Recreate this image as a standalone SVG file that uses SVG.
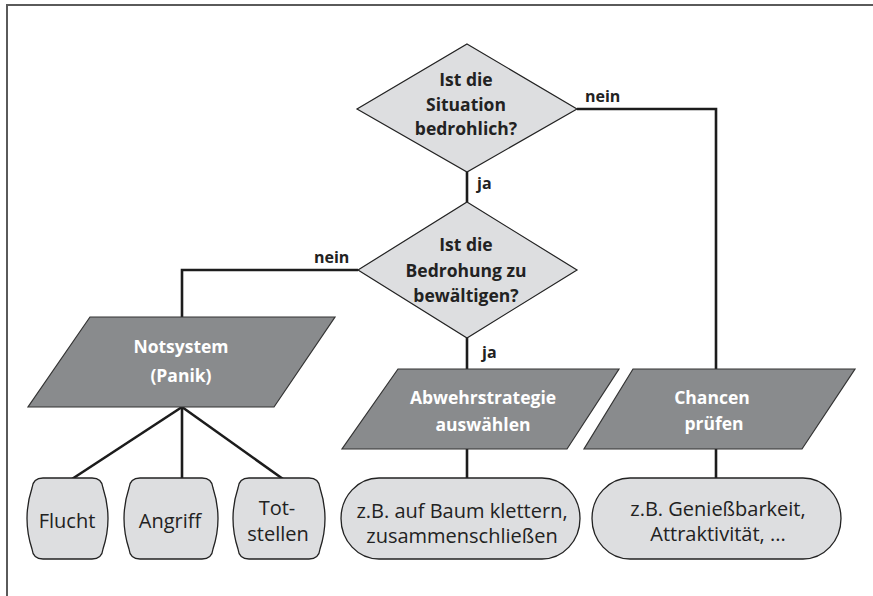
<svg xmlns="http://www.w3.org/2000/svg" width="873" height="596" viewBox="0 0 873 596">
<style>
.dia{fill:#dddee0;stroke:#222;stroke-width:1.2}
.par{fill:#898b8d;stroke:#333;stroke-width:1.2}
.box{fill:#dddee0;stroke:#222;stroke-width:1.3}
.con{fill:none;stroke:#1c1c1c;stroke-width:2.6;stroke-linejoin:miter}
.frame{fill:none;stroke:#5a5a5a;stroke-width:2}
text{font-family:"Open Sans","Noto Sans",sans-serif;text-anchor:middle}
.b{font-weight:bold;font-size:17.5px;fill:#222}
.w{font-weight:bold;font-size:17.5px;fill:#fff}
.r{font-size:20px;fill:#222}
.lbl{font-weight:bold;font-size:16px;fill:#222;text-anchor:start}
</style>
<polyline class="frame" points="873,5 7,5 7,596"/>
<g id="connectors">
<line class="con" x1="467" y1="172" x2="467" y2="202"/>
<polyline class="con" points="577,109 716,109 716,369"/>
<polyline class="con" points="358,270 182,270 182,317"/>
<line class="con" x1="467" y1="338" x2="467" y2="369"/>
<line class="con" x1="182" y1="407" x2="72" y2="479"/>
<line class="con" x1="182" y1="407" x2="182" y2="479"/>
<line class="con" x1="182" y1="407" x2="283" y2="479"/>
<line class="con" x1="467" y1="449" x2="467" y2="479"/>
<line class="con" x1="716" y1="449" x2="716" y2="479"/>
<text class="lbl" x="585" y="102">nein</text>
<text class="lbl" x="477" y="189">ja</text>
<text class="lbl" x="314" y="263">nein</text>
<text class="lbl" x="482" y="358">ja</text>
</g>
<g id="d1">
<polygon class="dia" points="467,44 577,109 467,172 357,109"/>
<text class="b" x="466" y="86">Ist die</text>
<text class="b" x="466" y="111">Situation</text>
<text class="b" x="466" y="135">bedrohlich?</text>
</g>
<g id="d2">
<polygon class="dia" points="467,202 577,270 467,338 358,270"/>
<text class="b" x="466" y="251">Ist die</text>
<text class="b" x="466" y="277">Bedrohung zu</text>
<text class="b" x="466" y="302">bewältigen?</text>
</g>
<g id="notsystem">
<polygon class="par" points="90,317 335,317 274,407 28,407"/>
<text class="w" x="181" y="353">Notsystem</text>
<text class="w" x="181" y="382">(Panik)</text>
</g>
<g id="abwehr">
<polygon class="par" points="398,369 619,369 567,449 342,449"/>
<text class="w" x="483" y="404">Abwehrstrategie</text>
<text class="w" x="483" y="431">auswählen</text>
</g>
<g id="chancen">
<polygon class="par" points="633,369 855,369 802,449 584,449"/>
<text class="w" x="712" y="404">Chancen</text>
<text class="w" x="714" y="430">prüfen</text>
</g>
<g id="flucht">
<path class="box" d="M43,478 H92 Q102,478 103,488 Q113,518.5 103,549 Q102,559 92,559 H43 Q33,559 32,549 Q22,518.5 32,488 Q33,478 43,478 Z"/>
<text class="r" x="67" y="528">Flucht</text>
</g>
<g id="angriff">
<path class="box" d="M140,478 H202 Q212,478 213,488 Q223,518.5 213,549 Q212,559 202,559 H140 Q130,559 129,549 Q119,518.5 129,488 Q130,478 140,478 Z"/>
<text class="r" x="170" y="528">Angriff</text>
</g>
<g id="totstellen">
<path class="box" d="M249,478 H309 Q319,478 320,488 Q330,518.5 320,549 Q319,559 309,559 H249 Q239,559 238,549 Q228,518.5 238,488 Q239,478 249,478 Z"/>
<text class="r" x="277" y="515">Tot-</text>
<text class="r" x="278" y="541">stellen</text>
</g>
<g id="baum">
<rect class="box" x="341" y="478" width="239" height="81" rx="38" ry="40.5"/>
<text class="r" x="462" y="518">z.B. auf Baum klettern,</text>
<text class="r" x="462" y="543">zusammenschließen</text>
</g>
<g id="geniess">
<rect class="box" x="592" y="478" width="249" height="81" rx="38" ry="40.5"/>
<text class="r" x="718" y="516">z.B. Genießbarkeit,</text>
<text class="r" x="718" y="541">Attraktivität, ...</text>
</g>
</svg>
